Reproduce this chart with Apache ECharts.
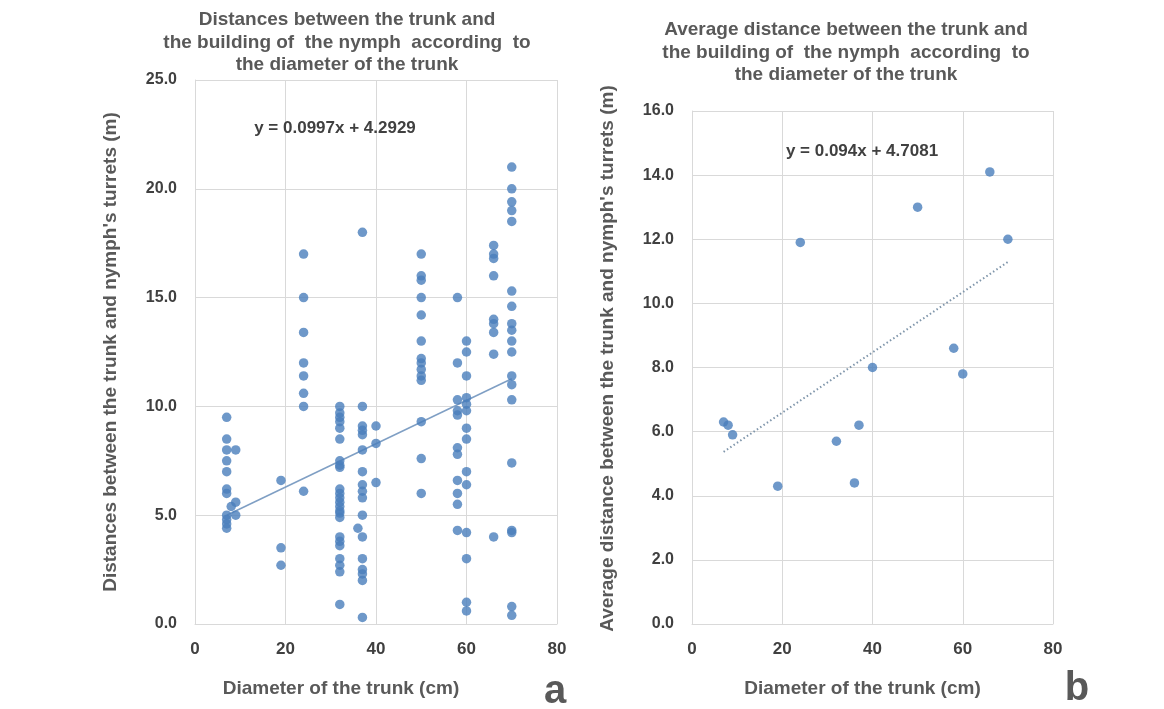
<!DOCTYPE html>
<html><head><meta charset="utf-8">
<script src="https://cdn.jsdelivr.net/npm/echarts@6/dist/echarts.min.js"></script>
<style>html,body{margin:0;padding:0;background:#fff}#c{width:1164px;height:709px}</style>
</head><body><div id="c"></div>
<script>
// Chart a: individual distances by trunk diameter
const diamA = [7,8,9,19,24,32,36,37,40,50,58,60,66,70];
const distA = [
  [9.5,8.5,8.0,7.5,7.0,6.2,6.0,5.0,4.8,4.6,4.4],
  [5.4],
  [8.0,5.6,5.0],
  [6.6,3.5,2.7],
  [17.0,15.0,13.4,12.0,11.4,10.6,10.0,6.1],
  [10.0,9.7,9.5,9.3,9.0,8.5,7.5,7.3,7.2,6.2,6.0,5.8,5.6,5.4,5.2,5.1,4.9,4.0,3.8,3.6,3.0,2.7,2.4,0.9],
  [4.4],
  [18.0,10.0,9.1,8.9,8.7,8.0,7.0,6.4,6.1,5.8,5.0,4.0,3.0,2.5,2.3,2.0,0.3],
  [9.1,8.3,6.5],
  [17.0,16.0,15.8,15.0,14.2,13.0,12.2,12.0,11.7,11.4,11.2,9.3,7.6,6.0],
  [15.0,12.0,10.3,9.8,9.6,8.1,7.8,6.6,6.0,5.5,4.3],
  [13.0,12.5,11.4,10.4,10.1,9.8,9.0,8.5,7.0,6.4,4.2,3.0,1.0,0.6],
  [17.4,17.0,16.8,16.0,14.0,13.8,13.4,12.4,4.0],
  [21.0,20.0,19.4,19.0,18.5,15.3,14.6,13.8,13.5,13.0,12.5,11.4,11.0,10.3,7.4,4.3,4.2,0.8,0.4]
];
const trendA = [[7,5.0],[70,11.27]];
const eqA = 'y = 0.0997x + 4.2929';

// Chart b: average distance by trunk diameter
const diamB = [7,8,9,19,24,32,36,37,40,50,58,60,66,70];
const meanB = [6.3,6.2,5.9,4.3,11.9,5.7,4.4,6.2,8.0,13.0,8.6,7.8,14.1,12.0];
const trendB = [[7,5.37],[70,11.29]];
const eqB = 'y = 0.094x + 4.7081';

const ticksY_A = {min:0,max:25,interval:5};
const ticksY_B = {min:0,max:16,interval:2};
const ticksX = {min:0,max:80,interval:20};

const ptsA = [];
diamA.forEach((d,i)=>distA[i].forEach(v=>ptsA.push([d,v])));
const ptsB = diamB.map((d,i)=>[d,meanB[i]]);

const FONT = '"Liberation Sans", Arial, sans-serif';
const txt = '#404040';
const gray = '#595959';
const gridCol = '#d9d9d9';
const dot = '#4A7EBB';

function xAx(gi, nameOffset){
  return {gridIndex:gi, type:'value', min:ticksX.min, max:ticksX.max, interval:ticksX.interval,
    name:'Diameter of the trunk (cm)', nameLocation:'middle', nameGap:55,
    nameTextStyle:{fontFamily:FONT,fontWeight:'bold',fontSize:19,color:gray,padding:nameOffset},
    axisLine:{show:true,lineStyle:{color:gridCol}}, axisTick:{show:false},
    axisLabel:{fontFamily:FONT,fontWeight:'bold',fontSize:17,color:txt,margin:17},
    splitLine:{show:true,lineStyle:{color:gridCol,width:1}}};
}
function yAx(gi, t, name, gap, pad){
  return {gridIndex:gi, type:'value', min:t.min, max:t.max, interval:t.interval,
    name:name, nameLocation:'middle', nameGap:gap,
    nameTextStyle:{fontFamily:FONT,fontWeight:'bold',fontSize:19,color:gray,padding:pad},
    axisLine:{show:true,lineStyle:{color:gridCol}}, axisTick:{show:false},
    axisLabel:{fontFamily:FONT,fontWeight:'bold',fontSize:16,color:txt,margin:18,formatter:v=>v.toFixed(1)},
    splitLine:{show:true,lineStyle:{color:gridCol,width:1}}};
}

const chart = echarts.init(document.getElementById('c'), null, {renderer:'canvas'});
chart.setOption({
  backgroundColor:'#fff',
  animation:false,
  title:[
    {text:'Distances between the trunk and\nthe building of  the nymph  according  to\nthe diameter of the trunk',
     left:347, top:9, textAlign:'center', padding:0,
     textStyle:{fontFamily:FONT,fontWeight:'bold',fontSize:19,color:gray,lineHeight:22.5,align:'center'}},
    {text:'Average distance between the trunk and\nthe building of  the nymph  according  to\nthe diameter of the trunk',
     left:846, top:19, textAlign:'center', padding:0,
     textStyle:{fontFamily:FONT,fontWeight:'bold',fontSize:19,color:gray,lineHeight:22.5,align:'center'}},
    {text:eqA, left:335, top:120, textAlign:'center', padding:0,
     textStyle:{fontFamily:FONT,fontWeight:'bold',fontSize:17,color:txt}},
    {text:eqB, left:862, top:143, textAlign:'center', padding:0,
     textStyle:{fontFamily:FONT,fontWeight:'bold',fontSize:17,color:txt}},
    {text:'a', left:550, top:667, textAlign:'center',
     textStyle:{fontFamily:FONT,fontWeight:'bold',fontSize:40,color:gray}},
    {text:'b', left:1072, top:664, textAlign:'center',
     textStyle:{fontFamily:FONT,fontWeight:'bold',fontSize:40,color:gray}}
  ],
  grid:[
    {left:195, top:80, width:362, height:544},
    {left:692, top:111, width:361, height:513}
  ],
  xAxis:[xAx(0,[0,70,0,0]), xAx(1,[0,20,0,0])],
  yAxis:[
    yAx(0, ticksY_A, "Distances between the trunk and nymph's turrets (m)", 75, [0,0,0,0]),
    yAx(1, ticksY_B, "Average distance between the trunk and nymph's turrets (m)", 75, [0,0,0,18])
  ],
  series:[
    {type:'line', xAxisIndex:0, yAxisIndex:0, data:trendA, symbol:'none',
     lineStyle:{color:'#7F9FC4',width:1.5}, z:2},
    {type:'scatter', xAxisIndex:0, yAxisIndex:0, data:ptsA, symbolSize:9.5,
     itemStyle:{color:dot}, z:3},
    {type:'line', xAxisIndex:1, yAxisIndex:1, data:trendB, symbol:'none',
     lineStyle:{color:'#7F95AA',width:2,type:[1.5,2.5]}, z:2},
    {type:'scatter', xAxisIndex:1, yAxisIndex:1, data:ptsB, symbolSize:9.5,
     itemStyle:{color:dot}, z:3}
  ]
});
</script></body></html>
